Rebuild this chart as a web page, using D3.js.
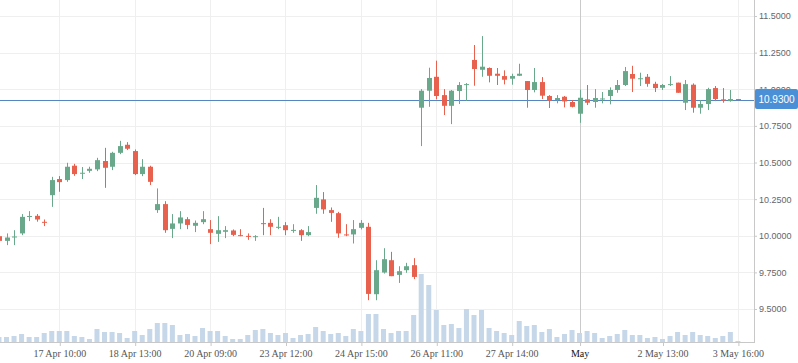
<!DOCTYPE html>
<html>
<head>
<meta charset="utf-8">
<script src="https://cdn.jsdelivr.net/npm/d3@7"></script>
<style>
  body { margin: 0; background: #fff; }
  svg { display: block; }
</style>
</head>
<body>
<div id="chart"></div>
<script>
// candles, oldest first (first one is cut off at the left edge)
var opens = [9.997, 9.965, 9.99, 10.016, 10.13, 10.136, 10.095, 10.277, 10.387, 10.38,
  10.478, 10.425, 10.443, 10.453, 10.51, 10.471, 10.566, 10.621, 10.578, 10.421,
  10.471, 10.175, 10.216, 10.047, 10.084, 10.113, 10.068, 10.093, 10.045, 10.013,
  10.027, 10.036, 10.004, 9.999, 9.993, 10.086, 10.088, 10.056, 10.072, 10.036,
  10.038, 10.004, 10.19, 10.248, 10.175, 10.154, 10.009, 10.009, 10.054, 10.061,
  9.601, 9.749, 9.833, 9.733, 9.765, 9.799, 10.874, 10.99, 11.085, 10.96,
  10.887, 10.988, 11.03, 11.2, 11.133, 11.145, 11.106, 11.09, 11.072, 11.092,
  11.056, 10.995, 11.049, 10.954, 10.926, 10.949, 10.913, 10.833, 10.931, 10.913,
  10.933, 10.954, 10.995, 11.029, 11.104, 11.072, 11.085, 11.037, 11.01, 11.031,
  11.045, 10.908, 11.031, 10.874, 10.899, 11.008, 10.931, 10.919, 10.933];
var highs = [10.0, 10.016, 10.038, 10.148, 10.168, 10.148, 10.111, 10.402, 10.407, 10.498,
  10.491, 10.469, 10.471, 10.532, 10.60, 10.573, 10.648, 10.639, 10.589, 10.523,
  10.478, 10.323, 10.236, 10.148, 10.168, 10.127, 10.104, 10.168, 10.107, 10.134,
  10.066, 10.043, 10.045, 10.016, 10.004, 10.19, 10.113, 10.129, 10.093, 10.079,
  10.045, 10.066, 10.346, 10.298, 10.193, 10.163, 10.079, 10.107, 10.107, 10.088,
  9.833, 9.915, 9.89, 9.792, 9.815, 9.847, 11.001, 11.147, 11.195, 11.001,
  10.995, 11.049, 11.042, 11.302, 11.363, 11.149, 11.145, 11.129, 11.106, 11.174,
  11.056, 11.145, 11.083, 10.96, 10.96, 10.954, 10.926, 10.997, 11.029, 11.001,
  10.981, 11.013, 11.063, 11.152, 11.16, 11.113, 11.104, 11.051, 11.036, 11.09,
  11.045, 11.063, 11.04, 10.926, 11.01, 11.022, 11.008, 10.995, 10.933];
var lows = [9.897, 9.936, 9.936, 10.004, 10.10, 10.096, 10.066, 10.197, 10.30, 10.368,
  10.409, 10.387, 10.43, 10.441, 10.327, 10.448, 10.557, 10.585, 10.414, 10.407,
  10.346, 10.156, 10.02, 9.984, 10.045, 10.045, 10.025, 10.079, 9.943, 9.958,
  9.984, 9.997, 9.997, 9.972, 9.965, 10.004, 10.004, 10.045, 10.004, 10.02,
  9.965, 9.997, 10.15, 10.15, 10.095, 9.986, 9.997, 9.947, 10.043, 9.56,
  9.56, 9.742, 9.724, 9.678, 9.747, 9.704, 10.612, 10.88, 10.931, 10.824,
  10.762, 10.899, 10.92, 11.024, 11.085, 11.047, 11.029, 11.033, 11.031, 11.09,
  10.874, 10.979, 10.933, 10.872, 10.904, 10.876, 10.876, 10.771, 10.892, 10.874,
  10.904, 10.897, 10.976, 11.022, 10.981, 11.022, 11.017, 10.981, 10.995, 11.022,
  10.976, 10.858, 10.84, 10.833, 10.858, 10.919, 10.908, 10.915, 10.93];
var closes = [9.965, 9.988, 9.995, 10.129, 10.135, 10.111, 10.093, 10.38, 10.366, 10.471,
  10.421, 10.43, 10.457, 10.516, 10.464, 10.566, 10.612, 10.594, 10.421, 10.471,
  10.368, 10.216, 10.038, 10.084, 10.125, 10.074, 10.088, 10.113, 10.02, 10.038,
  10.038, 10.006, 9.999, 9.995, 9.997, 10.083, 10.061, 10.061, 10.038, 10.04,
  10.004, 10.025, 10.259, 10.18, 10.156, 10.016, 10.006, 10.045, 10.088, 9.603,
  9.765, 9.84, 9.724, 9.758, 9.792, 9.719, 10.99, 11.077, 10.954, 10.887,
  10.99, 11.029, 11.035, 11.138, 11.154, 11.092, 11.092, 11.065, 11.09, 11.106,
  10.995, 11.049, 10.956, 10.921, 10.94, 10.917, 10.88, 10.942, 10.908, 10.94,
  10.937, 10.995, 11.029, 11.124, 11.072, 11.075, 11.037, 11.008, 11.029, 11.035,
  10.976, 11.035, 10.874, 10.899, 11.001, 10.933, 10.921, 10.933, 10.93];
var volumes = [5, 5, 6, 8, 5, 5, 9, 11, 11, 11,
  6, 5, 3, 13, 10, 10, 9, 4, 11, 7,
  13, 19, 19, 17, 7, 8, 6, 14, 11, 11,
  6, 3, 3, 7, 12, 13, 9, 7, 9, 4,
  7, 8, 15, 11, 8, 9, 6, 13, 11, 28,
  28, 13, 9, 11, 11, 27, 68, 57, 32, 17,
  18, 14, 33, 27, 32, 14, 11, 9, 7, 21,
  16, 17, 10, 13, 5, 8, 12, 9, 11, 9,
  4, 6, 8, 12, 7, 7, 4, 5, 3, 6,
  10, 7, 10, 7, 6, 4, 6, 10, 1];

var tickPos = [8, 18, 28, 38, 48, 58, 68, 77, 88, 98];
var tickLabels = ["17 Apr 10:00", "18 Apr 13:00", "20 Apr 09:00", "23 Apr 12:00", "24 Apr 15:00",
  "26 Apr 11:00", "27 Apr 14:00", "May", "2 May 13:00", "3 May 16:00"];
var priceTicks = [9.5, 9.75, 10.0, 10.25, 10.5, 10.75, 11.0, 11.25, 11.5];
var lastPrice = 10.93;

var width = 798,
    height = 363,
    plotW = 754,
    plotH = 342;

var data = opens.map(function (o, i) {
    return { i: i, open: o, high: highs[i], low: lows[i], close: closes[i], vol: volumes[i] };
});

var svg = d3.select("#chart")
    .append("svg").attr("width", width)
    .attr("height", height)
    .style("font-family", "'Liberation Sans', Arial, sans-serif");

var x = d3.scaleLinear()
    .domain([0, data.length - 1])
    .range([-1.04, 737.9]);

var y = d3.scaleLinear()
    .domain([9.5, 11.5])
    .range([309, 16]);

var yVol = d3.scaleLinear()
    .domain([0, 100])
    .range([plotH, plotH - 100]);

svg.append("clipPath").attr("id", "plot")
    .append("rect").attr("width", plotW).attr("height", plotH);

// grid
var grid = svg.append("g");
grid.selectAll(".hg")
    .data(priceTicks)
    .enter().append("line")
    .attr("x1", 0).attr("x2", plotW)
    .attr("y1", function (d) { return Math.round(y(d)) + 0.5; })
    .attr("y2", function (d) { return Math.round(y(d)) + 0.5; })
    .attr("stroke", "#efefef");

grid.selectAll(".vg")
    .data(tickPos)
    .enter().append("line")
    .attr("x1", function (d) { return Math.round(x(d)) + 0.5; })
    .attr("x2", function (d) { return Math.round(x(d)) + 0.5; })
    .attr("y1", 0).attr("y2", plotH)
    .attr("stroke", function (d, i) { return tickLabels[i] == "May" ? "#cacaca" : "#efefef"; });

var plot = svg.append("g").attr("clip-path", "url(#plot)");

// volume
plot.append("g")
    .selectAll("rect")
    .data(data)
    .enter().append("rect")
    .attr("x", function (d) { return x(d.i) - 2.5; })
    .attr("width", 5)
    .attr("y", function (d) { return yVol(d.vol); })
    .attr("height", function (d) { return plotH - yVol(d.vol); })
    .attr("fill", "#c5d7e8");

// last price line
plot.append("line")
    .attr("x1", 0).attr("x2", plotW)
    .attr("y1", Math.round(y(lastPrice)) + 0.5)
    .attr("y2", Math.round(y(lastPrice)) + 0.5)
    .attr("stroke", "#5686c0");

// candles
var candle = plot.append("g")
    .selectAll("g")
    .data(data)
    .enter().append("g")
    .attr("fill", function (d) { return d.close >= d.open ? "#6aa88b" : "#e8604e"; })
    .attr("stroke", function (d) { return d.close >= d.open ? "#6aa88b" : "#e8604e"; });

candle.append("line")
    .attr("x1", function (d) { return Math.round(x(d.i)) + 0.5; })
    .attr("x2", function (d) { return Math.round(x(d.i)) + 0.5; })
    .attr("y1", function (d) { return y(d.high); })
    .attr("y2", function (d) { return y(d.low); });

candle.append("rect")
    .attr("stroke", "none")
    .attr("x", function (d) { return Math.round(x(d.i)) - 2; })
    .attr("width", 5)
    .attr("y", function (d) { return y(Math.max(d.open, d.close)); })
    .attr("height", function (d) { return Math.max(1, Math.abs(y(d.open) - y(d.close))); });

// y axis
var yAxis = svg.append("g")
    .attr("transform", "translate(" + plotW + ",0)")
    .call(d3.axisRight(y).tickValues(priceTicks).tickFormat(d3.format(".4f")).tickSize(3).tickPadding(2));
yAxis.select(".domain").remove();
yAxis.selectAll("line").attr("stroke", "#c8c8c8");
yAxis.selectAll("text").attr("fill", "#666").style("font-size", "9px")
    .style("font-family", "'Liberation Sans', Arial, sans-serif");

svg.append("line")
    .attr("x1", plotW + 0.5).attr("x2", plotW + 0.5)
    .attr("y1", 0).attr("y2", plotH)
    .attr("stroke", "#c8c8c8");

// x axis
var xAxis = svg.append("g")
    .attr("transform", "translate(0," + plotH + ")")
    .call(d3.axisBottom(x).tickValues(tickPos).tickFormat(function (d, i) { return tickLabels[i]; }).tickSize(4).tickPadding(4));
xAxis.select(".domain").remove();
xAxis.selectAll("line").attr("stroke", "#c8c8c8")
    .attr("transform", function () { return "translate(" + 0.5 + ",0)"; });
xAxis.selectAll("text")
    .style("font-size", "10px")
    .style("font-family", "'Liberation Serif', 'Times New Roman', serif")
    .attr("fill", function (d, i) { return tickLabels[i] == "May" ? "#111" : "#555"; });

svg.append("line")
    .attr("x1", 0).attr("x2", plotW + 1)
    .attr("y1", plotH + 0.5).attr("y2", plotH + 0.5)
    .attr("stroke", "#c8c8c8");

// last price label
var priceLabel = svg.append("g")
    .attr("transform", "translate(" + (plotW + 1) + "," + y(lastPrice) + ")");

priceLabel.append("rect")
    .attr("x", 0).attr("y", -10.5)
    .attr("width", 43).attr("height", 20)
    .attr("rx", 2)
    .attr("fill", "#4b8fd6");

priceLabel.append("text")
    .attr("x", 21.5)
    .attr("dy", "0.35em")
    .attr("text-anchor", "middle")
    .attr("fill", "#fff")
    .style("font-size", "10px")
    .text(d3.format(".4f")(lastPrice));
</script>
</body>
</html>
